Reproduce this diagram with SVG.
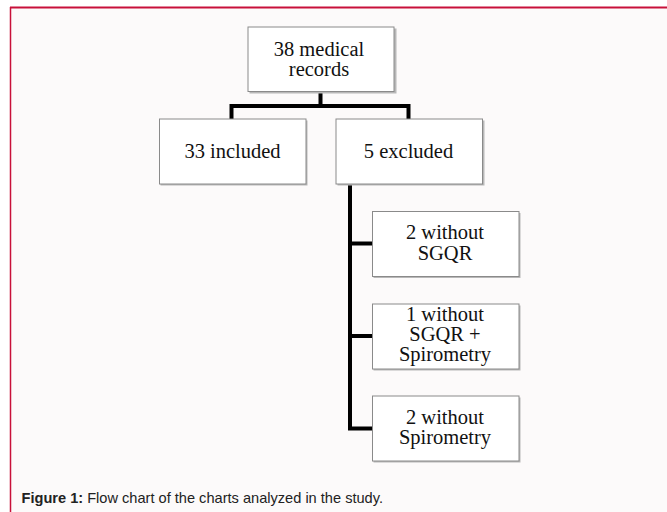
<svg xmlns="http://www.w3.org/2000/svg" width="667" height="512" viewBox="0 0 667 512">
<style>
.box{fill:#ffffff;stroke:#8a8a8a;stroke-width:1}
.shadow{fill:#b8b8b8}
.t{font-family:"Liberation Serif","Times New Roman",serif;font-size:20.5px;fill:#111;text-anchor:middle}
.conn{fill:none;stroke:#000;stroke-width:4;stroke-linejoin:miter}
.cap{font-family:"Liberation Sans",Arial,sans-serif;font-size:14.6px;fill:#222}
</style>
<rect x="0" y="0" width="667" height="512" fill="#ffffff"/>
<rect x="10" y="7" width="657" height="505" fill="#fcfafa"/>
<line x1="10" y1="7.5" x2="667" y2="7.5" stroke="#c8103a" stroke-width="2"/>
<line x1="10.5" y1="7" x2="10.5" y2="512" stroke="#c8103a" stroke-width="1.5"/>

<g id="connectors">
<path class="conn" d="M320.5 92 V106 M231.5 119 V106 H408.5 V119"/>
<path class="conn" d="M350 184 V428.5 H372 M350 243.5 H372 M350 336 H372"/>
</g>

<g id="n_records">
<rect class="shadow" x="249.5" y="28.5" width="147" height="65"/>
<rect class="box" x="248" y="27" width="146" height="64.5"/>
<text class="t" x="319" y="56">38 medical</text>
<text class="t" x="319" y="75.5">records</text>
</g>

<g id="n_included">
<rect class="shadow" x="160.5" y="120.5" width="147" height="65"/>
<rect class="box" x="159.5" y="119" width="146.5" height="65"/>
<text class="t" x="232.5" y="157.5">33 included</text>
</g>

<g id="n_excluded">
<rect class="shadow" x="337.5" y="120.5" width="147" height="65"/>
<rect class="box" x="336" y="119" width="146.5" height="65"/>
<text class="t" x="408.5" y="157.5">5 excluded</text>
</g>

<g id="n_sgqr">
<rect class="shadow" x="373.5" y="213" width="147" height="65"/>
<rect class="box" x="372.5" y="211.5" width="146.5" height="65"/>
<text class="t" x="445" y="239">2 without</text>
<text class="t" x="445" y="260">SGQR</text>
</g>

<g id="n_sgqr_spiro">
<rect class="shadow" x="373.5" y="305.5" width="147" height="65"/>
<rect class="box" x="372.5" y="304" width="146.5" height="65"/>
<text class="t" x="445" y="321">1 without</text>
<text class="t" x="445" y="341">SGQR +</text>
<text class="t" x="445" y="360.5">Spirometry</text>
</g>

<g id="n_spiro">
<rect class="shadow" x="373.5" y="397.5" width="147" height="65"/>
<rect class="box" x="372.5" y="396" width="146.5" height="65"/>
<text class="t" x="445" y="423.5">2 without</text>
<text class="t" x="445" y="443.5">Spirometry</text>
</g>

<text class="cap" x="21.5" y="502.5"><tspan font-weight="bold">Figure 1:</tspan> Flow chart of the charts analyzed in the study.</text>
</svg>
